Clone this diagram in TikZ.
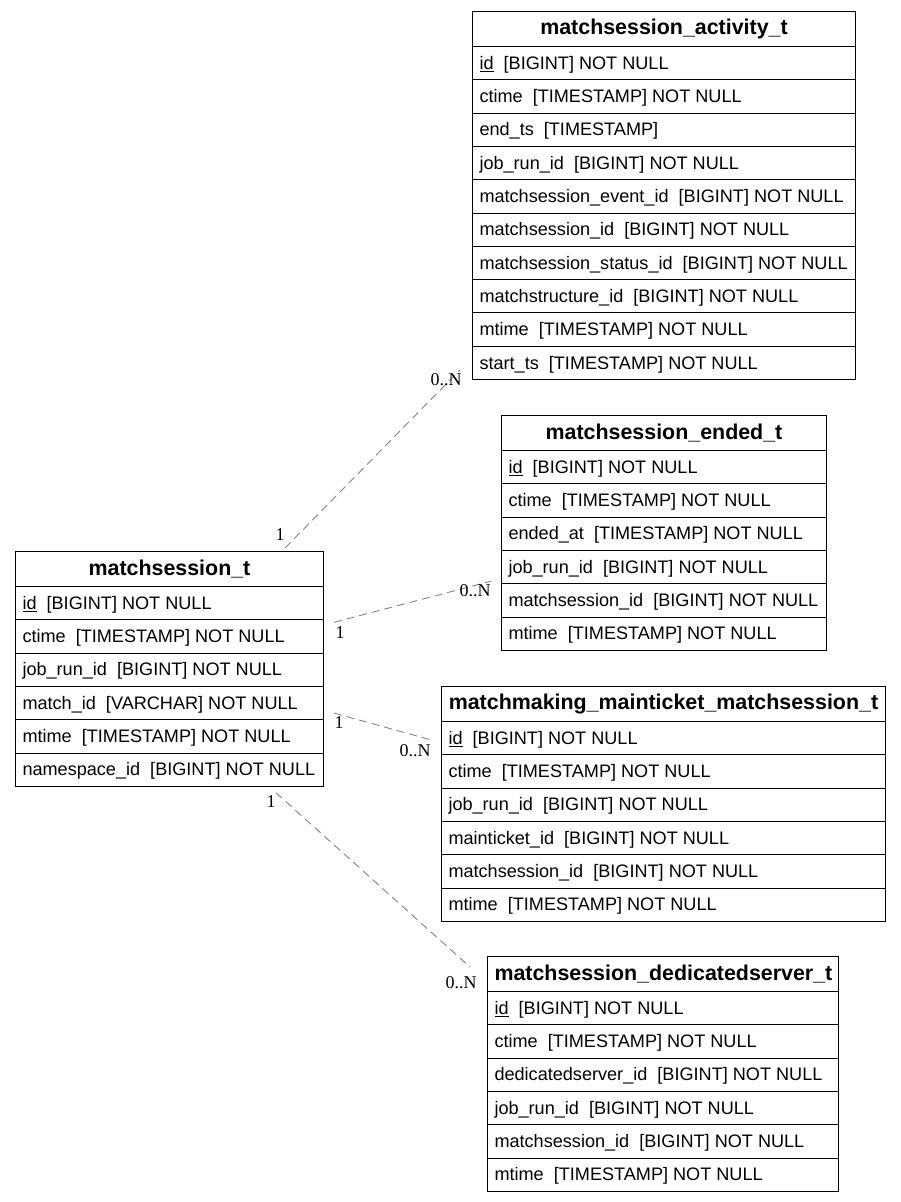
\documentclass[tikz,border=0pt]{standalone}
\usepackage{fontspec}
\setmainfont{Liberation Sans}
\newfontfamily\lblfont{Liberation Serif}
\usetikzlibrary{calc}
\tikzset{
  hdr/.style={draw, line width=1pt, anchor=north west, minimum height=35pt, inner xsep=7pt, inner ysep=0pt, align=center, font=\bfseries\fontsize{21.4}{24}\selectfont},
  fld/.style={draw, line width=1pt, anchor=north west, minimum height=33.3pt, inner xsep=7pt, inner ysep=0pt, font=\fontsize{18.1}{21}\selectfont},
  rel/.style={draw=black!48, line width=0.9pt, dash pattern=on 8pt off 5pt},
  card/.style={font=\lblfont\fontsize{18}{20}\selectfont, inner sep=0pt}
}
\newcommand\mktable[6]{%
  \pgfmathsetmacro\tw{#4-14}%
  \node[hdr, minimum width=#4pt, text width=\tw pt] (#1) at (#2,#3) {\raisebox{-2pt}{#5}};
  \foreach \r [count=\i] in {#6} {
    \node[fld, minimum width=#4pt] (#1-\i) at (#2,{#3+35+(\i-1)*33.3}) {\makebox[\tw pt][l]{\raisebox{-2pt}{\r}\strut}};
  }%
}
\newcommand\twosp{\ \ }
\begin{document}
\begin{tikzpicture}[x=1pt,y=-1pt]
\useasboundingbox[fill=white] (0,0) rectangle (901,1202);

\mktable{act}{472}{11}{383}{matchsession\_activity\_t}{%
  \underline{id}\twosp[BIGINT] NOT NULL,
  ctime\twosp[TIMESTAMP] NOT NULL,
  end\_ts\twosp[TIMESTAMP],
  job\_run\_id\twosp[BIGINT] NOT NULL,
  matchsession\_event\_id\twosp[BIGINT] NOT NULL,
  matchsession\_id\twosp[BIGINT] NOT NULL,
  matchsession\_status\_id\twosp[BIGINT] NOT NULL,
  matchstructure\_id\twosp[BIGINT] NOT NULL,
  mtime\twosp[TIMESTAMP] NOT NULL,
  start\_ts\twosp[TIMESTAMP] NOT NULL}

\mktable{ended}{501}{415}{325}{matchsession\_ended\_t}{%
  \underline{id}\twosp[BIGINT] NOT NULL,
  ctime\twosp[TIMESTAMP] NOT NULL,
  ended\_at\twosp[TIMESTAMP] NOT NULL,
  job\_run\_id\twosp[BIGINT] NOT NULL,
  matchsession\_id\twosp[BIGINT] NOT NULL,
  mtime\twosp[TIMESTAMP] NOT NULL}

\mktable{ms}{15}{551}{308}{matchsession\_t}{%
  \underline{id}\twosp[BIGINT] NOT NULL,
  ctime\twosp[TIMESTAMP] NOT NULL,
  job\_run\_id\twosp[BIGINT] NOT NULL,
  match\_id\twosp[VARCHAR] NOT NULL,
  mtime\twosp[TIMESTAMP] NOT NULL,
  namespace\_id\twosp[BIGINT] NOT NULL}

\mktable{mt}{441}{686}{444}{matchmaking\_mainticket\_matchsession\_t}{%
  \underline{id}\twosp[BIGINT] NOT NULL,
  ctime\twosp[TIMESTAMP] NOT NULL,
  job\_run\_id\twosp[BIGINT] NOT NULL,
  mainticket\_id\twosp[BIGINT] NOT NULL,
  matchsession\_id\twosp[BIGINT] NOT NULL,
  mtime\twosp[TIMESTAMP] NOT NULL}

\mktable{ds}{487}{956}{351}{matchsession\_dedicatedserver\_t}{%
  \underline{id}\twosp[BIGINT] NOT NULL,
  ctime\twosp[TIMESTAMP] NOT NULL,
  dedicatedserver\_id\twosp[BIGINT] NOT NULL,
  job\_run\_id\twosp[BIGINT] NOT NULL,
  matchsession\_id\twosp[BIGINT] NOT NULL,
  mtime\twosp[TIMESTAMP] NOT NULL}

% relations
\coordinate (e1a) at ($(ms.north west)+(270,-3)$);
\coordinate (e1b) at ($(act-10.west)+(-12,7)$);
\coordinate (e2a) at ($(ms-2.north east)+(10,3)$);
\coordinate (e2b) at ($(ended-4.south west)+(-10,-3)$);
\coordinate (e3a) at ($(ms-4.east)+(10,10)$);
\coordinate (e3b) at ($(mt-1.west)+(-9,2)$);
\coordinate (e4a) at ($(ms-6.south west)+(261,6)$);
\coordinate (e4b) at ($(ds.west)+(-17,-7)$);
\draw[rel] (e1a) -- (e1b);
\draw[rel] (e2a) -- (e2b);
\draw[rel] (e3a) -- (e3b);
\draw[rel] (e4a) -- (e4b);

\node[card] (c1a) at (280,535) {1};
\node[card] (c1b) at (446,380) {0..N};
\node[card] (c2a) at (340,633) {1};
\node[card] (c2b) at (475,591) {0..N};
\node[card] (c3a) at (339,723) {1};
\node[card] (c3b) at (415,751) {0..N};
\node[card] (c4a) at (271,802) {1};
\node[card] (c4b) at (461,983) {0..N};
\end{tikzpicture}
\end{document}
